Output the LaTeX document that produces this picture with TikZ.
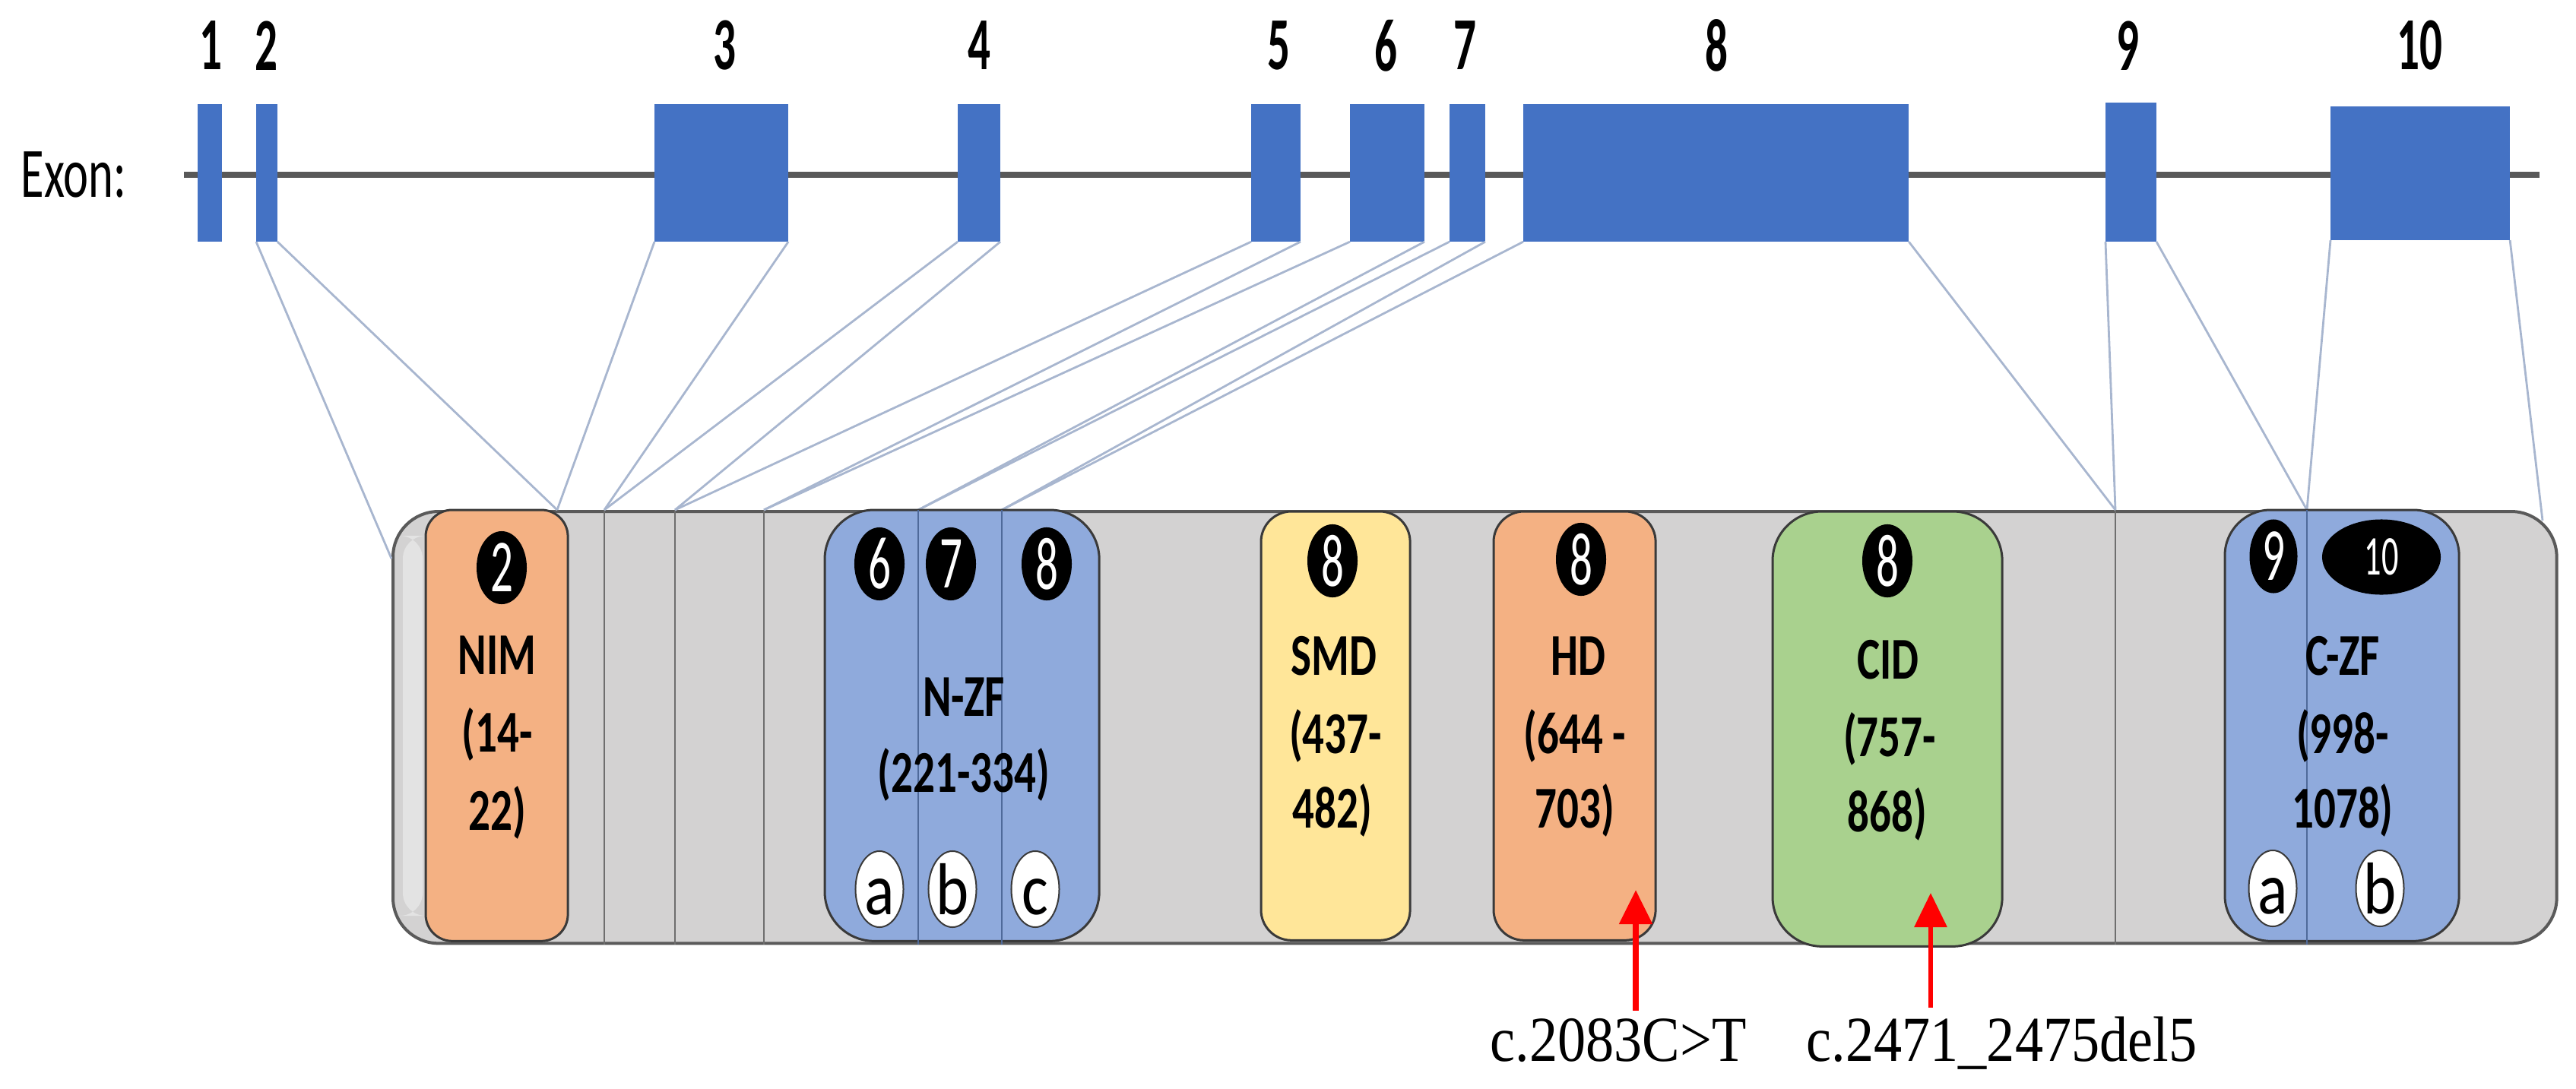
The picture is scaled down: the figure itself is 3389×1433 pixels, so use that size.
\documentclass[tikz,border=0pt]{standalone}
\usepackage{fontspec}
\usepackage{graphicx}
\setmainfont{Liberation Serif}
\newfontfamily\calfont{Carlito}
\usetikzlibrary{shapes.geometric,arrows.meta}
\definecolor{exonblue}{HTML}{4472C4}
\definecolor{barfill}{HTML}{D3D2D2}
\definecolor{barline}{HTML}{5A5A5A}
\definecolor{boxline}{HTML}{3A3A3A}
\definecolor{orangefill}{HTML}{F4B183}
\definecolor{yellowfill}{HTML}{FFE699}
\definecolor{greenfill}{HTML}{A9D18E}
\definecolor{bluefill}{HTML}{8FAADC}
\definecolor{connc}{HTML}{A8B6CF}
\definecolor{intronc}{HTML}{595959}
\definecolor{divblue}{HTML}{4F6A9A}
\definecolor{divgray}{HTML}{6E6E6E}
\definecolor{stripc}{HTML}{E3E3E3}
\newcommand{\nx}[1]{\scalebox{0.6}[1]{#1}}
\newcommand{\dx}[1]{\scalebox{0.73}[1]{#1}}
\newcommand{\lx}[1]{\scalebox{0.85}[1]{#1}}
\newcommand{\mx}[1]{\scalebox{0.88}[1]{#1}}
\begin{document}
\begin{tikzpicture}[x=0.01cm,y=-0.01cm,
  exonbox/.style={rectangle,fill=exonblue,draw=none,inner sep=0pt,outer sep=0pt,minimum height=1.81cm,anchor=north west},
  connline/.style={draw=connc,line width=0.028cm},
  toplab/.style={inner sep=0pt,font=\calfont\bfseries\fontsize{28}{30}\selectfont},
  domainbox/.style={rectangle,draw=boxline,line width=0.03cm,inner sep=0pt,outer sep=0pt,anchor=north west},
  blackoval/.style={ellipse,fill=black,draw=none,inner sep=0pt,minimum width=0.66cm,minimum height=0.96cm,text=white,font=\calfont\fontsize{28}{30}\selectfont},
  whiteoval/.style={ellipse,fill=white,draw=boxline,line width=0.02cm,inner sep=0pt,minimum width=0.63cm,minimum height=1.0cm,text height=0.67cm,text depth=0pt,font=\calfont\fontsize{27.5}{30}\selectfont},
  domtxt/.style={anchor=base,inner sep=0pt,font=\calfont\bfseries\fontsize{22.2}{26}\selectfont},
  vline/.style={draw=divgray,line width=0.025cm},
  vlineblue/.style={draw=divblue,line width=0.02cm},
  redarrow/.style={draw=red,line width=0.08cm,-{Triangle[length=0.45cm,width=0.42cm]}},
  muttxt/.style={anchor=base west,inner sep=0pt,font=\fontsize{24}{28}\selectfont}
]
\useasboundingbox (0,0) rectangle (3389,1433);

% ---------- gene structure ----------
\node (exonlab) [anchor=west,inner sep=0pt,font=\calfont\fontsize{26.5}{30}\selectfont] at (27,230) {\scalebox{0.67}[1]{Exon:}};
\coordinate (lineL) at (242,230);
\coordinate (lineR) at (3341,230);
\draw[intronc,line width=0.08cm] (lineL) -- (lineR);

\node (e1) [exonbox,minimum width=0.32cm] at (260,137) {};
\node (e2) [exonbox,minimum width=0.28cm] at (337,137) {};
\node (e3) [exonbox,minimum width=1.76cm] at (861,137) {};
\node (e4) [exonbox,minimum width=0.56cm] at (1260,137) {};
\node (e5) [exonbox,minimum width=0.65cm] at (1646,137) {};
\node (e6) [exonbox,minimum width=0.98cm] at (1776,137) {};
\node (e7) [exonbox,minimum width=0.47cm] at (1907,137) {};
\node (e8) [exonbox,minimum width=5.07cm] at (2004,137) {};
\node (e9) [exonbox,minimum width=0.67cm,minimum height=1.83cm] at (2770,135) {};
\node (e10) [exonbox,minimum width=2.36cm,minimum height=1.76cm] at (3066,140) {};

\node (l1) [toplab] at (277,60) {\nx{1}};
\node (l2) [toplab] at (350,60) {\nx{2}};
\node (l3) [toplab] at (953,60) {\nx{3}};
\node (l4) [toplab] at (1288,60) {\nx{4}};
\node (l5) [toplab] at (1682,60) {\nx{5}};
\node (l6) [toplab] at (1823,60) {\nx{6}};
\node (l7) [toplab] at (1927,60) {\nx{7}};
\node (l8) [toplab] at (2258,60) {\nx{8}};
\node (l9) [toplab] at (2799,60) {\nx{9}};
\node (l10) [toplab] at (3183,60) {\nx{10}};

% ---------- protein bar ----------
\node (bar) [rectangle,draw=barline,fill=barfill,line width=0.04cm,rounded corners=0.6cm,
  minimum width=28.45cm,minimum height=5.68cm,inner sep=0pt,anchor=north west] at (515,671) {};
\fill[stripc,rounded corners=0.3cm] (530,705) rectangle (556,1205);

\coordinate (P0) at (515,735);
\coordinate (P1) at (733,671);
\coordinate (P2) at (795,671);
\coordinate (P3) at (888,671);
\coordinate (P4) at (1005,671);
\coordinate (P5) at (1208,671);
\coordinate (P6) at (1318,671);
\coordinate (P7) at (2783,671);
\coordinate (P8) at (3035,671);
\coordinate (P9) at (3345,685);

\draw[vline] (P2) -- (P2 |- bar.south);
\draw[vline] (P3) -- (P3 |- bar.south);
\draw[vline] (P4) -- (P4 |- bar.south);
\draw[vline] (P7) -- (P7 |- bar.south);

% connectors
\draw[connline] (e2.south west) -- (P0);
\draw[connline] (e2.south east) -- (P1);
\draw[connline] (e3.south west) -- (P1);
\draw[connline] (e3.south east) -- (P2);
\draw[connline] (e4.south west) -- (P2);
\draw[connline] (e4.south east) -- (P3);
\draw[connline] (e5.south west) -- (P3);
\draw[connline] (e5.south east) -- (P4);
\draw[connline] (e6.south west) -- (P4);
\draw[connline] (e6.south east) -- (P5);
\draw[connline] (e7.south west) -- (P5);
\draw[connline] (e7.south east) -- (P6);
\draw[connline] (e8.south west) -- (P6);
\draw[connline] (e8.south east) -- (P7);
\draw[connline] (e9.south west) -- (P7);
\draw[connline] (e9.south east) -- (P8);
\draw[connline] (e10.south west) -- (P8);
\draw[connline] (e10.south east) -- (P9);

% domains
\node (nim) [domainbox,fill=orangefill,rounded corners=0.35cm,minimum width=1.87cm,minimum height=5.67cm] at (560,671) {};
\node (nzf) [domainbox,fill=bluefill,rounded corners=0.65cm,minimum width=3.61cm,minimum height=5.67cm] at (1085,671) {};
\node (smd) [domainbox,fill=yellowfill,rounded corners=0.4cm,minimum width=1.96cm,minimum height=5.64cm] at (1659,673) {};
\node (hd) [domainbox,fill=orangefill,rounded corners=0.4cm,minimum width=2.13cm,minimum height=5.64cm] at (1965,673) {};
\node (cid) [domainbox,fill=greenfill,rounded corners=0.65cm,minimum width=3.02cm,minimum height=5.72cm] at (2332,673) {};
\node (czf) [domainbox,fill=bluefill,rounded corners=0.6cm,minimum width=3.08cm,minimum height=5.67cm] at (2927,671) {};

\draw[vlineblue] (P5) -- (P5 |- bar.south);
\draw[vlineblue] (P6) -- (P6 |- bar.south);
\draw[vlineblue] (P8) -- (P8 |- bar.south);

% exon numbers on domains
\node (n2) [blackoval] at (660,747) {\nx{2}};
\node (n6) [blackoval] at (1157,742) {\nx{6}};
\node (n7) [blackoval] at (1251,742) {\nx{7}};
\node (n8a) [blackoval] at (1377,742) {\nx{8}};
\node (n8b) [blackoval] at (1753,738) {\nx{8}};
\node (n8c) [blackoval] at (2080,736) {\nx{8}};
\node (n8d) [blackoval] at (2483,738) {\nx{8}};
\node (n9) [blackoval,minimum width=0.63cm,minimum height=0.97cm] at (2991,732) {\nx{9}};
\node (n10) [blackoval,minimum width=1.56cm,minimum height=0.99cm,font=\calfont\fontsize{21}{24}\selectfont] at (3133,733) {\nx{10}};

% zinc finger sub-labels
\node (wa) [whiteoval] at (1157,1170) {\lx{a}};
\node (wb) [whiteoval] at (1253,1170) {\lx{b}};
\node (wc) [whiteoval] at (1362,1170) {\lx{c}};
\node (wa2) [whiteoval] at (2990,1169) {\lx{a}};
\node (wb2) [whiteoval] at (3131,1169) {\lx{b}};

% domain texts
\node (nimt1) [domtxt] at (654,887) {\dx{NIM}};
\node (nimt2) [domtxt] at (654,989) {\dx{(14-}};
\node (nimt3) [domtxt] at (654,1092) {\dx{22)}};
\node (nzft1) [domtxt] at (1268,942) {\dx{N-ZF}};
\node (nzft2) [domtxt] at (1268,1042) {\dx{(221-334)}};
\node (smdt1) [domtxt] at (1755,888) {\dx{SMD}};
\node (smdt2) [domtxt] at (1757,991) {\dx{(437-}};
\node (smdt3) [domtxt] at (1753,1089) {\dx{482)}};
\node (hdt1) [domtxt] at (2076,888) {\dx{HD}};
\node (hdt2) [domtxt] at (2072,991) {\dx{(644 -}};
\node (hdt3) [domtxt] at (2072,1089) {\dx{703)}};
\node (cidt1) [domtxt] at (2484,893) {\dx{CID}};
\node (cidt2) [domtxt] at (2486,995) {\dx{(757-}};
\node (cidt3) [domtxt] at (2483,1094) {\dx{868)}};
\node (czft1) [domtxt] at (3082,888) {\dx{C-ZF}};
\node (czft2) [domtxt] at (3082,991) {\dx{(998-}};
\node (czft3) [domtxt] at (3082,1089) {\dx{1078)}};

% mutations
\node (mut1) [muttxt] at (1960,1396) {\mx{c.2083C>T}};
\node (mut2) [muttxt] at (2376,1396) {\mx{c.2471\_2475del5}};
\coordinate (a1tail) at (2152,1330);
\coordinate (a1tip) at (2152,1171);
\coordinate (a2tail) at (2540,1326);
\coordinate (a2tip) at (2540,1175);
\draw[redarrow] (a1tail) -- (a1tip);
\draw[redarrow,line width=0.06cm] (a2tail) -- (a2tip);
\end{tikzpicture}
\end{document}
